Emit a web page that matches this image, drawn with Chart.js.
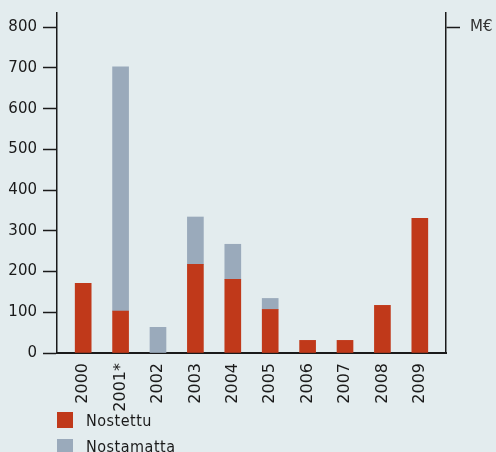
<!DOCTYPE html>
<html>
<head>
<meta charset="utf-8">
<script src="https://cdn.jsdelivr.net/npm/chart.js@4/dist/chart.umd.min.js"></script>
<style>
  html, body { margin: 0; padding: 0; background: #e3ecee; overflow: hidden; }
  #wrap { position: relative; width: 496px; height: 452px; }
  #legend { position: absolute; left: 57px; top: 412px; font-family: "DejaVu Sans Condensed", "DejaVu Sans", sans-serif; font-size: 16px; color: #1a1a1a; letter-spacing: 0.5px; }
  .item { display: flex; align-items: center; height: 16px; margin-bottom: 10.7px; }
  .box { width: 16px; height: 16px; margin-right: 13px; }
</style>
</head>
<body>
<div id="wrap">
  <canvas id="chart" width="496" height="452"></canvas>
  <div id="legend"></div>
</div>
<script>
// years on the x axis
let years = ["2000", "2001*", "2002", "2003", "2004", "2005", "2006", "2007", "2008", "2009"];
// M€ (null = no bar)
let nostettu = [171, 103, null, 218, 181, 107, 31, 31, 117, 331];
let nostamatta = [null, 600, 63, 116, 86, 27, null, null, null, null];
let yTicks = [0, 100, 200, 300, 400, 500, 600, 700, 800];
let unitLabel = "M€";

let red = "#c0391a";
let grey = "#9aaabb";
let ink = "#1a1a1a";

function points(values) {
  return values.map((v, i) => ({ x: i, y: v }));
}

// fixed width for the side axes, no extra room above the plot
function fitSide(width) {
  return (s) => {
    s.width = width;
    s.paddingTop = 0;
    s.paddingBottom = 0;
  };
}

let ctx = document.getElementById("chart");

let chart = new Chart(ctx, {
  type: "bar",
  data: {
    datasets: [
      { label: "Nostettu", data: points(nostettu), backgroundColor: red, barThickness: 16 },
      { label: "Nostamatta", data: points(nostamatta), backgroundColor: grey, barThickness: 16 },
    ],
  },
  options: {
    responsive: false,
    animation: false,
    layout: { padding: { top: 13 } },
    plugins: { legend: { display: false }, tooltip: { enabled: false } },
    scales: {
      x: {
        type: "linear",
        stacked: true,
        offset: false,
        min: -0.7,
        max: 9.7,
        afterBuildTicks: (s) => { s.ticks = years.map((y, i) => ({ value: i })); },
        afterFit: (s) => { s.height = 99; },
        grid: { display: false, drawTicks: false, offset: false },
        border: { display: true, color: ink, width: 2 },
        ticks: {
          autoSkip: false,
          minRotation: 90,
          maxRotation: 90,
          padding: 10,
          color: ink,
          font: { family: "DejaVu Sans", size: 16 },
          callback: (v) => years[v],
        },
      },
      y: {
        stacked: true,
        min: 0,
        max: 835,
        afterBuildTicks: (s) => { s.ticks = yTicks.map((v) => ({ value: v })); },
        afterFit: fitSide(57),
        grid: { drawOnChartArea: false, tickLength: 14, color: ink, tickWidth: 1.5 },
        border: { color: ink, width: 1.5 },
        ticks: { padding: 6, color: ink, font: { family: "DejaVu Sans", size: 15 } },
      },
      y2: {
        position: "right",
        min: 0,
        max: 835,
        afterBuildTicks: (s) => { s.ticks = [{ value: 800 }]; },
        afterFit: fitSide(50),
        grid: { drawOnChartArea: false, tickLength: 14, color: ink, tickWidth: 1.5 },
        border: { color: ink, width: 1.5 },
        ticks: { padding: 10, color: "#333", font: { family: "DejaVu Sans", size: 15 }, callback: () => unitLabel },
      },
    },
  },
});

// legend underneath, one item per row
let legend = document.getElementById("legend");
chart.data.datasets.forEach((ds) => {
  let item = document.createElement("div");
  item.className = "item";
  item.innerHTML = `<span class="box" style="background:${ds.backgroundColor}"></span>${ds.label}`;
  legend.appendChild(item);
});
</script>
</body>
</html>
